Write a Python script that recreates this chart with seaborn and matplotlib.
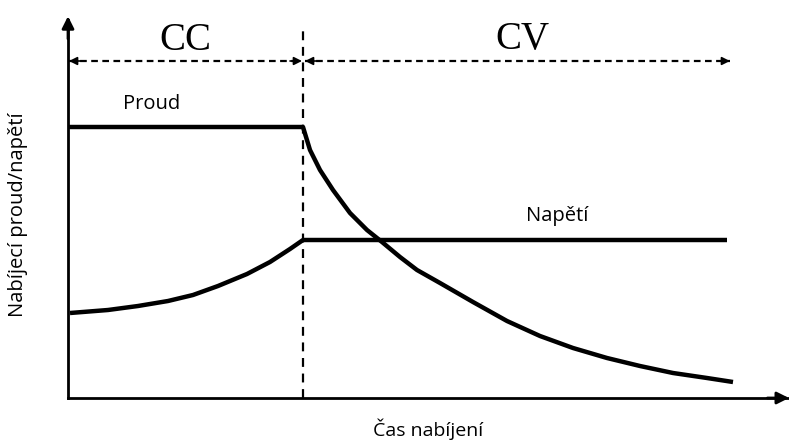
import matplotlib
matplotlib.use('Agg')
import matplotlib.pyplot as plt
import seaborn as sns
import pandas as pd

# values (arbitrary units, time -> right, level -> up)
proud_t = [0, 235, 242, 252, 265, 282, 299, 314, 332, 349, 372, 405, 439, 472, 505, 539, 572, 605, 639, 665]
proud_v = [271, 271, 248, 228, 208, 185, 168, 156, 141, 128, 115, 96, 77, 62, 50, 40, 32, 25, 20, 16]

napeti_t = [2, 40, 70, 100, 125, 150, 179, 202, 222, 235, 659]
napeti_v = [85, 88, 92, 97, 103, 112, 124, 136, 149, 158, 158]

t_switch = 235          # CC -> CV
phase_y = 337           # height of the phase arrows
cc_span = [1, 234]
cv_span = [237, 662]

sns.set_theme(style='white')
plt.rcParams['font.family'] = ['Open Sans', 'DejaVu Sans']
plt.rcParams['text.color'] = 'black'
plt.rcParams['axes.labelcolor'] = 'black'

fig = plt.figure(figsize=(7.89, 4.46), dpi=100)
ax = fig.add_axes([68 / 789, 48 / 446, 721 / 789, 378 / 446])

proud = pd.DataFrame({'t': proud_t, 'v': proud_v})
napeti = pd.DataFrame({'t': napeti_t, 'v': napeti_v})
sns.lineplot(data=proud, x='t', y='v', color='black', lw=3.2, ax=ax, estimator=None,
             solid_joinstyle='round', solid_capstyle='butt')
sns.lineplot(data=napeti, x='t', y='v', color='black', lw=3.2, ax=ax, estimator=None,
             solid_joinstyle='round', solid_capstyle='butt')

ax.set_xlim(0, 721)
ax.set_ylim(0, 378)

# CC / CV boundary
ax.plot([t_switch, t_switch], [0, 373], color='black', lw=1.6, ls=(0, (4, 3)))

# phase arrows
for span in (cc_span, cv_span):
    ax.plot(span, [phase_y, phase_y], color='black', lw=1.6, ls=(0, (3, 2)))
    ax.annotate('', xy=(span[0], phase_y), xytext=(span[0] + 12, phase_y),
                arrowprops=dict(arrowstyle='-|>', color='black', lw=1.2,
                                mutation_scale=12, shrinkA=0, shrinkB=0))
    ax.annotate('', xy=(span[1], phase_y), xytext=(span[1] - 12, phase_y),
                arrowprops=dict(arrowstyle='-|>', color='black', lw=1.2,
                                mutation_scale=12, shrinkA=0, shrinkB=0))

ax.text(117, 358, 'CC', family='Liberation Serif', fontsize=28, ha='center', va='center')
ax.text(454, 358, 'CV', family='Liberation Serif', fontsize=28, ha='center', va='center')
ax.text(84, 294, 'Proud', fontsize=14.5, ha='center', va='center')
ax.text(489, 182, 'Napětí', fontsize=14.5, ha='center', va='center')

# axes with arrow heads
for s in ('top', 'right'):
    ax.spines[s].set_visible(False)
for s in ('left', 'bottom'):
    ax.spines[s].set_color('black')
    ax.spines[s].set_linewidth(2)
ax.annotate('', xy=(0, 1.01), xytext=(0, 0.95), xycoords='axes fraction',
            arrowprops=dict(arrowstyle='-|>', color='black', lw=2,
                            mutation_scale=18, shrinkA=0, shrinkB=0), annotation_clip=False)
ax.annotate('', xy=(1.0, 0), xytext=(0.97, 0), xycoords='axes fraction',
            arrowprops=dict(arrowstyle='-|>', color='black', lw=2,
                            mutation_scale=18, shrinkA=0, shrinkB=0), annotation_clip=False)
ax.set_xticks([])
ax.set_yticks([])

ax.set_xlabel('Čas nabíjení', fontsize=14)
ax.set_ylabel('Nabíjecí proud/napětí', fontsize=14.5)
ax.xaxis.set_label_coords(360 / 721, -20 / 378)
ax.yaxis.set_label_coords(-40 / 721, 183 / 378)

fig.savefig('out.png', dpi=100)
